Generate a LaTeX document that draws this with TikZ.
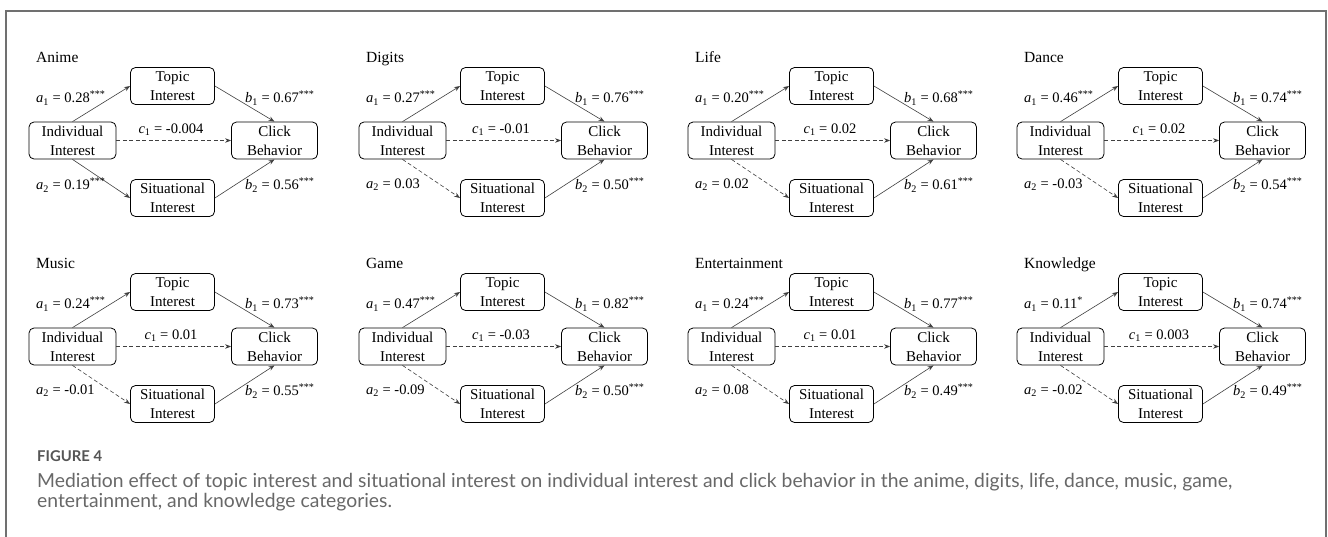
\documentclass[tikz,border=0pt]{standalone}
\usepackage{fontspec}
\setmainfont{Liberation Serif}
\newfontfamily\capfont{Lato}
\usetikzlibrary{arrows.meta}
\definecolor{framegray}{HTML}{707070}
\definecolor{capgray}{HTML}{686868}
\definecolor{figgray}{HTML}{555555}
\definecolor{edgegray}{HTML}{404040}
\newsavebox\capboxA
\newcommand\capA{Mediation effect of topic interest and situational interest on individual interest and click behavior in the anime, digits, life, dance, music, game,}
\newcommand\capB{entertainment, and knowledge categories.}
\newcommand\sig[1]{\textsuperscript{#1}}
\newcommand\coef[3]{\textit{#1}\textsubscript{#2} = #3}
\tikzset{
  box/.style={draw, rounded corners=5pt, line width=0.8pt, minimum height=37pt, align=center,
    font=\fontsize{15}{19}\selectfont, inner sep=0pt},
  lbl/.style={font=\fontsize{14.5}{16}\selectfont, inner sep=0pt},
  ttl/.style={font=\fontsize{15.5}{17}\selectfont, inner sep=0pt},
  conn/.style={draw=edgegray, line width=0.6pt, -{Stealth[length=6pt,width=4.5pt]}},
  nsig/.style={dash pattern=on 4pt off 2.5pt},
  sg/.style={solid}
}
\newcommand\mypanel[9]{%
\begin{scope}[shift={#1}]
\node[ttl, anchor=base west] (#2-t) at (36,62) {#3};
\node[box, minimum width=87pt] (#2-i) at (72.5,140.5) {Individual\\Interest};
\node[box, minimum width=84pt] (#2-p) at (172.5,86) {Topic\\Interest};
\node[box, minimum width=84pt] (#2-s) at (172.5,198) {Situational\\Interest};
\node[box, minimum width=86pt] (#2-c) at (274.5,140.5) {Click\\Behavior};
\draw[conn] (#2-i.north) -- (#2-p.west);
\draw[conn] (#2-p.east) -- (#2-c.north);
\draw[conn, nsig] (#2-i.east) -- (#2-c.west);
\draw[conn, #9] (#2-i.south) -- (#2-s.west);
\draw[conn] (#2-s.east) -- (#2-c.south);
\node[lbl, anchor=west] (#2-la1) at (36,98) {\coef{a}{1}{#4}};
\node[lbl, anchor=west] (#2-lb1) at (245,98) {\coef{b}{1}{#5}};
\node[lbl] (#2-lc1) at (171,130) {\coef{c}{1}{#6}};
\node[lbl, anchor=west] (#2-la2) at (36,185) {\coef{a}{2}{#7}};
\node[lbl, anchor=west] (#2-lb2) at (245,185) {\coef{b}{2}{#8}};
\end{scope}}
\begin{document}
\sbox\capboxA{\capfont\fontsize{16}{18}\selectfont\capA}%
\begin{tikzpicture}[x=1pt,y=-1pt]
\useasboundingbox (0,0) rectangle (1328,536);
\fill[white] (0,0) rectangle (1328,536);
\pgfmathsetmacro\capscale{1195/\the\wd\capboxA}
\draw[framegray, line width=1.3pt] (6,545) -- (6,11) -- (1326,11) -- (1326,545);
\mypanel{(0,0)}{anime}{Anime}{0.28\sig{***}}{0.67\sig{***}}{-0.004}{0.19\sig{***}}{0.56\sig{***}}{sg}
\mypanel{(330,0)}{digits}{Digits}{0.27\sig{***}}{0.76\sig{***}}{-0.01}{0.03}{0.50\sig{***}}{nsig}
\mypanel{(659,0)}{life}{Life}{0.20\sig{***}}{0.68\sig{***}}{0.02}{0.02}{0.61\sig{***}}{nsig}
\mypanel{(988,0)}{dance}{Dance}{0.46\sig{***}}{0.74\sig{***}}{0.02}{-0.03}{0.54\sig{***}}{nsig}
\mypanel{(0,206)}{music}{Music}{0.24\sig{***}}{0.73\sig{***}}{0.01}{-0.01}{0.55\sig{***}}{nsig}
\mypanel{(330,206)}{game}{Game}{0.47\sig{***}}{0.82\sig{***}}{-0.03}{-0.09}{0.50\sig{***}}{nsig}
\mypanel{(659,206)}{ent}{Entertainment}{0.24\sig{***}}{0.77\sig{***}}{0.01}{0.08}{0.49\sig{***}}{nsig}
\mypanel{(988,206)}{know}{Knowledge}{0.11\sig{*}}{0.74\sig{***}}{0.003}{-0.02}{0.49\sig{***}}{nsig}
\node[anchor=base west, inner sep=0, text=figgray] (fig) at (37,461) {\resizebox{65pt}{!}{\capfont\bfseries FIGURE 4}};
\node[anchor=base west, inner sep=0, text=capgray] (cap1) at (37,487) {\scalebox{\capscale}{\capfont\fontsize{16}{18}\selectfont\capA}};
\node[anchor=base west, inner sep=0, text=capgray] (cap2) at (37,507) {\scalebox{\capscale}{\capfont\fontsize{16}{18}\selectfont\capB}};
\end{tikzpicture}
\end{document}
